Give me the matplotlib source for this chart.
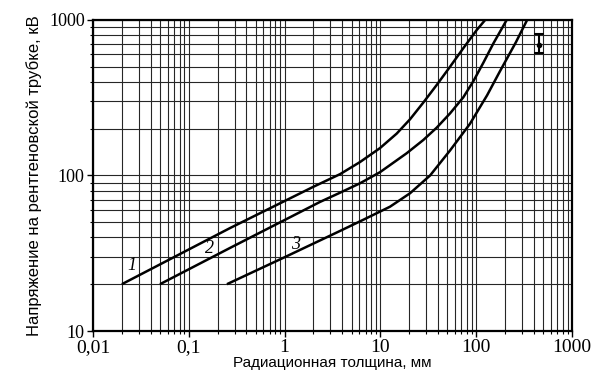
import numpy as np
import matplotlib
matplotlib.use('Agg')
import matplotlib.pyplot as plt
from matplotlib.ticker import LogLocator, FixedLocator, NullFormatter

# curve 1
x1 = [0.02, 0.269, 1.98, 3.79, 6.12, 9.9, 14.8, 20.4, 28.0, 38.7, 53.4, 73.3, 101, 124]
y1 = [20, 45.9, 84.4, 102, 122, 150, 186, 230, 294, 382, 501, 658, 860, 1000]
# curve 2
x2 = [0.05, 0.269, 2.34, 3.79, 6.12, 9.9, 18.8, 28.0, 38.7, 53.4, 73.3, 93.4, 119, 151, 208]
y2 = [20, 34.2, 67.6, 77.5, 89.1, 105, 139, 169, 203, 251, 318, 404, 532, 706, 1000]
# curve 3
x3 = [0.25, 1.01, 3.79, 6.58, 12.6, 20.4, 33.0, 53.4, 86.1, 130, 177, 260, 340]
y3 = [20, 29.9, 44, 51.8, 63, 76.9, 100, 145, 215, 328, 468, 720, 1000]

curve_labels = ['1', '2', '3']
label_pos = [(0.0255, 26.5), (0.166, 34.0), (1.31, 36.0)]

# error bar in the corner
err_x = 450
err_y = 690
err_lo = 614
err_hi = 813

xticks = [0.01, 0.1, 1, 10, 100, 1000]
xticklabels = ['0,01', '0,1', '1', '10', '100', '1000']
yticks = [10, 100, 1000]
yticklabels = ['10', '100', '1000']

fig = plt.figure(figsize=(6.04, 3.77), dpi=100)
ax = fig.add_axes([0.154, 0.122, 0.793, 0.825])

for xs, ys in [(x1, y1), (x2, y2), (x3, y3)]:
    ax.plot(xs, ys, color='black', lw=1.8, solid_capstyle='butt',
            solid_joinstyle='round')

for lab, (lx, ly) in zip(curve_labels, label_pos):
    ax.text(lx, ly, lab, fontsize=13, style='italic', family='Liberation Serif',
            ha='center', va='center')

ax.errorbar([err_x], [err_y], yerr=[[err_y - err_lo], [err_hi - err_y]],
            fmt='o', color='black', ms=3, capsize=3.5, lw=1.5, capthick=1.5)

ax.set_xscale('log')
ax.set_yscale('log')
ax.set_xlim(0.01, 1000)
ax.set_ylim(10, 1000)

ax.xaxis.set_major_locator(FixedLocator(xticks))
ax.set_xticklabels(xticklabels)
ax.yaxis.set_major_locator(FixedLocator(yticks))
ax.set_yticklabels(yticklabels)
ax.xaxis.set_minor_locator(LogLocator(base=10, subs=np.arange(2, 10)))
ax.yaxis.set_minor_locator(LogLocator(base=10, subs=np.arange(2, 10)))
ax.xaxis.set_minor_formatter(NullFormatter())
ax.yaxis.set_minor_formatter(NullFormatter())

ax.grid(True, which='both', color='0.15', lw=0.8)
ax.set_axisbelow(True)

for lab in ax.get_xticklabels():
    lab.set_family('Liberation Serif')
    lab.set_fontsize(14)
for lab in ax.get_yticklabels():
    lab.set_family('Liberation Serif')
    lab.set_fontsize(13)
ax.tick_params(which='major', length=4, width=1, direction='out', pad=2)
ax.tick_params(which='minor', length=2, width=0.8, direction='out')

for s in ax.spines.values():
    s.set_linewidth(1.6)

ax.set_xlabel('Радиационная толщина, мм', family='Liberation Sans',
              fontsize=11, labelpad=0)
ax.set_ylabel('Напряжение на рентгеновской трубке, кВ', family='Liberation Sans',
              fontsize=12, labelpad=5)

fig.savefig('out.png', dpi=100)
